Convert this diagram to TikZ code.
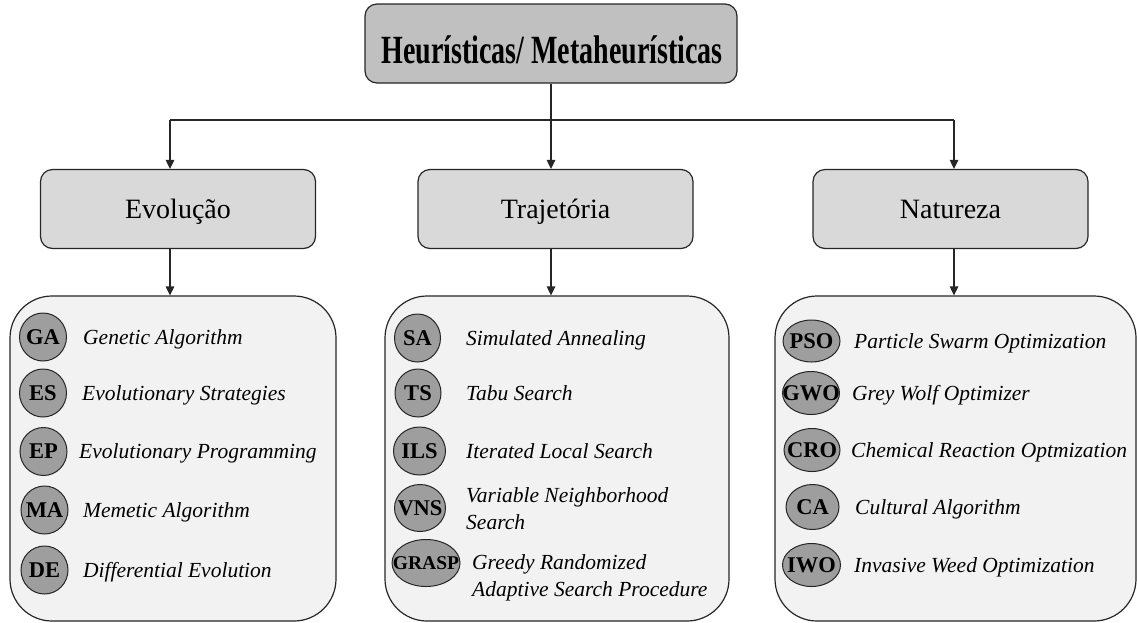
\documentclass[tikz,border=0pt]{standalone}
\usepackage{graphicx}
\usepackage{fontspec}
\setmainfont{Liberation Serif}
\usetikzlibrary{arrows.meta,shapes.geometric}

\definecolor{rootfill}{HTML}{C0C0C0}
\definecolor{midfill}{HTML}{D9D9D9}
\definecolor{listfill}{HTML}{F2F2F2}
\definecolor{chipfill}{HTML}{9E9E9E}
\definecolor{edgecol}{HTML}{262626}

% abbreviation set in a zero-width box, so the ellipse keeps its given size
\newcommand\chiplabel[1]{\makebox[0pt]{#1}}

\tikzset{
  rootbox/.style={draw=edgecol, line width=1.2pt, fill=rootfill, rounded corners=12pt,
    minimum width=372pt, minimum height=79pt, inner sep=0pt},
  roottext/.style={anchor=base, inner sep=0pt, font=\fontsize{40}{42}\selectfont\bfseries},
  catbox/.style={draw=edgecol, line width=1.2pt, fill=midfill, rounded corners=12pt,
    minimum width=275pt, minimum height=79pt, inner sep=0pt,
    font=\fontsize{28}{30}\selectfont, text height=18.5pt, text depth=0pt},
  listbox/.style={draw=edgecol, line width=1.2pt, fill=listfill, rounded corners=42pt,
    minimum height=325pt, inner sep=0pt},
  chip/.style={ellipse, draw=edgecol, line width=1pt, fill=chipfill, inner sep=0pt,
    font=\fontsize{22.5}{24}\selectfont\bfseries, text height=14.9pt, text depth=0pt},
  algo/.style={anchor=west, inner sep=0pt, align=left,
    font=\fontsize{21.5}{27}\selectfont\itshape},
  algoone/.style={algo, text height=14.2pt, text depth=0pt},
  link/.style={draw=edgecol, line width=1.2pt},
  flow/.style={link, -{Triangle[length=9pt,width=8.5pt]}}
}

\begin{document}
\begin{tikzpicture}[x=1pt,y=-1pt]
\useasboundingbox (0,0) rectangle (1137,622);

% top level
\node[rootbox] (root) at (551,43.5) {};
\node[roottext] (roott) at (552,63) {\scalebox{0.70}[1]{Heurísticas/ Metaheurísticas}};

% categories
\node[catbox] (evo) at (178,209) {Evolução};
\node[catbox] (traj) at (555.5,209) {Trajetória};
\node[catbox] (nat) at (950.5,209) {Natureza};

% algorithm panels
\node[listbox, minimum width=326pt] (evolist) at (173,458.5) {};
\node[listbox, minimum width=344pt] (trajlist) at (557,458.5) {};
\node[listbox, minimum width=361pt] (natlist) at (955.5,458.5) {};

% connectors
\coordinate (busL) at (170,120);
\coordinate (busM) at (551,120);
\coordinate (busR) at (954,120);
\draw[link] (root.south) -- (busM);
\draw[link] (busL) -- (busR);
\draw[flow] (busL) -- (busL |- evo.north);
\draw[flow] (busM) -- (busM |- traj.north);
\draw[flow] (busR) -- (busR |- nat.north);
\draw[flow] (busL |- evo.south) -- (busL |- evolist.north);
\draw[flow] (busM |- traj.south) -- (busM |- trajlist.north);
\draw[flow] (busR |- nat.south) -- (busR |- natlist.north);

% Evolução
\node[chip, minimum width=47pt, minimum height=48pt] (ga) at (43,337) {\chiplabel{GA}};
\node[algoone] (gat) at (83,337) {Genetic Algorithm};
\node[chip, minimum width=47pt, minimum height=48pt] (es) at (43,393) {\chiplabel{ES}};
\node[algoone] (est) at (82,393) {Evolutionary Strategies};
\node[chip, minimum width=47pt, minimum height=48pt] (ep) at (43.5,451.5) {\chiplabel{EP}};
\node[algoone] (ept) at (79,451.5) {Evolutionary Programming};
\node[chip, minimum width=47pt, minimum height=48pt] (ma) at (44.5,510) {\chiplabel{MA}};
\node[algoone] (mat) at (83,510) {Memetic Algorithm};
\node[chip, minimum width=47pt, minimum height=48pt] (de) at (44.5,570) {\chiplabel{DE}};
\node[algoone] (det) at (83,570) {Differential Evolution};

% Trajetória
\node[chip, minimum width=46pt, minimum height=48pt] (sa) at (417.5,338) {\chiplabel{SA}};
\node[algoone] (sat) at (466,338) {Simulated Annealing};
\node[chip, minimum width=46pt, minimum height=48pt] (ts) at (418,393) {\chiplabel{TS}};
\node[algoone] (tst) at (466,393) {Tabu Search};
\node[chip, minimum width=52pt, minimum height=48pt] (ils) at (419.5,451) {\chiplabel{ILS}};
\node[algoone] (ilst) at (466,451) {Iterated Local Search};
\node[chip, minimum width=51pt, minimum height=47pt] (vns) at (420,508) {\chiplabel{VNS}};
\node[algo] (vnst) at (466,508.5) {Variable Neighborhood\\Search};
\node[chip, minimum width=68pt, minimum height=47pt, font=\fontsize{19.5}{21}\selectfont\bfseries, text height=12.9pt] (grasp) at (426,563) {\chiplabel{GRASP}};
\node[algo] (graspt) at (472,578) {Greedy Randomized\\Adaptive Search Procedure};

% Natureza
\node[chip, minimum width=57pt, minimum height=42pt] (pso) at (811.5,341) {\chiplabel{PSO}};
\node[algoone] (psot) at (854,341) {Particle Swarm Optimization};
\node[chip, minimum width=57pt, minimum height=43pt] (gwo) at (811,393) {\chiplabel{GWO}};
\node[algoone] (gwot) at (852,393) {Grey Wolf Optimizer};
\node[chip, minimum width=56pt, minimum height=43pt] (cro) at (812,450) {\chiplabel{CRO}};
\node[algoone] (crot) at (851,450) {Chemical Reaction Optmization};
\node[chip, minimum width=53pt, minimum height=45pt] (ca) at (812.5,507) {\chiplabel{CA}};
\node[algoone] (cat) at (855,507) {Cultural Algorithm};
\node[chip, minimum width=58pt, minimum height=43pt] (iwo) at (811.5,565) {\chiplabel{IWO}};
\node[algoone] (iwot) at (854,565) {Invasive Weed Optimization};
\end{tikzpicture}
\end{document}
